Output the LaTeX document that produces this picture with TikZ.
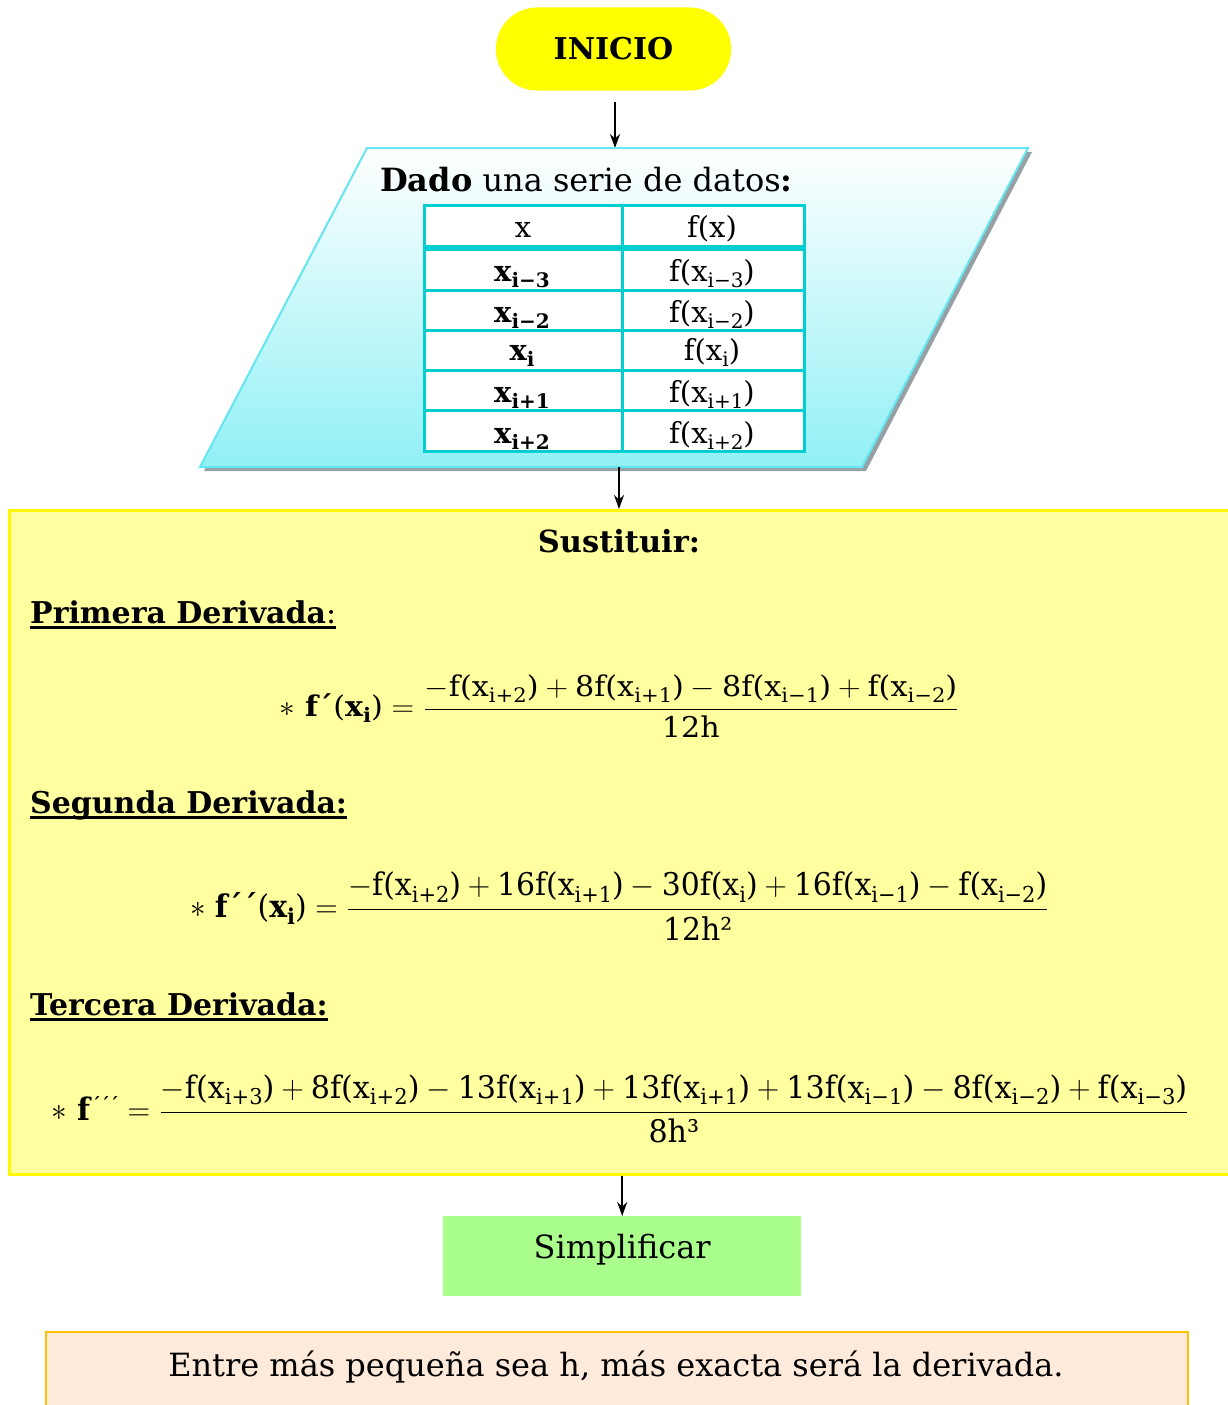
\documentclass[tikz,border=0pt]{standalone}
\usepackage{amsmath}
\usepackage{graphicx}
\usepackage{fontspec}
\setmainfont{DejaVu Serif}
\usetikzlibrary{arrows.meta}
\definecolor{startyel}{RGB}{255,255,0}
\definecolor{paraline}{RGB}{100,230,240}
\definecolor{parafill}{RGB}{145,240,245}
\definecolor{shadowc}{RGB}{150,160,165}
\definecolor{tabline}{RGB}{0,206,209}
\definecolor{boxfill}{RGB}{255,255,160}
\definecolor{boxline}{RGB}{255,248,0}
\definecolor{simpfill}{RGB}{170,255,140}
\definecolor{notefill}{RGB}{253,234,218}
\definecolor{noteline}{RGB}{255,192,0}
\newcommand{\mysub}[1]{\raisebox{-6pt}{\fontsize{20}{24}\selectfont #1}}
\newcommand{\mysubf}[1]{\raisebox{-4pt}{\fontsize{14}{16}\selectfont #1}}
\newcommand{\myft}[2][]{\mbox{#1f(x\mysubf{#2})}}
\newsavebox{\myulbox}
\newcommand{\myul}[1]{\sbox{\myulbox}{#1}\rlap{\usebox{\myulbox}}\rule[-6pt]{\wd\myulbox}{3pt}}
\begin{document}
\begin{tikzpicture}[x=1pt,y=-1pt,
  arr/.style={-{Stealth[length=14pt,width=10pt]}, line width=2pt},
  startbox/.style={fill=startyel, rounded corners=41pt, minimum width=235pt, minimum height=83pt, inner sep=0pt, font=\fontsize{30}{36}\selectfont\bfseries},
  cell/.style={anchor=base, inner sep=0pt, font=\fontsize{29}{34}\selectfont},
  head/.style={anchor=base west, inner sep=0pt, font=\fontsize{30}{36}\selectfont},
  eqn/.style={inner sep=0pt, font=\fontsize{20}{24}\selectfont},
  tab/.style={draw=tabline, line width=3pt}]
\useasboundingbox (0,0) rectangle (1228,1405);
\clip (0,0) rectangle (1228,1405);

% start
\node[startbox] (inicio) at (613.5,49) {INICIO};
\coordinate (ptop) at (615,148);
\draw[arr, shorten <=11pt] (inicio.south -| ptop) -- (ptop);

% parallelogram
\fill[shadowc] (371,152) -- (1032,152) -- (866,471) -- (204,471) -- cycle;
\shade[top color=white, bottom color=parafill] (367,148) -- (1028,148) -- (862,467) -- (200,467) -- cycle;
\draw[paraline, line width=2pt] (367,148) -- (1028,148) -- (862,467) -- (200,467) -- cycle;
\node[anchor=base west, inner sep=0pt, font=\fontsize{32}{38}\selectfont] (dado) at (380,191) {\textbf{Dado} una serie de datos\textbf{:}};

% table
\fill[white] (424,205) rectangle (804,451);
\draw[tab] (424,205) rectangle (804,451);
\draw[tab] (622,205) -- (622,451);
\draw[tabline, line width=6pt] (424,248) -- (804,248);
\foreach \yy in {290,330,370,410} \draw[tab] (424,\yy) -- (804,\yy);
\node[cell] (hx) at (523,237) {x};
\node[cell] (hf) at (712,237) {f(x)};
\node[cell] (x1) at (522,281) {\textbf{x\mysub{i−3}}};
\node[cell] (f1) at (712,281) {f(x\mysub{i−3})};
\node[cell] (x2) at (522,322) {\textbf{x\mysub{i−2}}};
\node[cell] (f2) at (712,322) {f(x\mysub{i−2})};
\node[cell] (x3) at (522,360) {\textbf{x\mysub{i}}};
\node[cell] (f3) at (712,360) {f(x\mysub{i})};
\node[cell] (x4) at (522,402) {\textbf{x\mysub{i+1}}};
\node[cell] (f4) at (712,402) {f(x\mysub{i+1})};
\node[cell] (x5) at (522,443) {\textbf{x\mysub{i+2}}};
\node[cell] (f5) at (712,443) {f(x\mysub{i+2})};

% big yellow box
\node[draw=boxline, fill=boxfill, line width=3pt, minimum width=1232pt, minimum height=664pt, inner sep=0pt, anchor=north west] (sust) at (8,509) {};
\coordinate (pbot) at (619,467);
\draw[arr] (pbot) -- (pbot |- sust.north);

\node[anchor=base, inner sep=0pt, font=\fontsize{30.5}{36}\selectfont\bfseries] (sustit) at (619,552) {Sustituir:};
\node[head] (prim) at (30,623) {\myul{\textbf{Primera Derivada}:}};
\node[head] (segu) at (30,813) {\myul{\textbf{Segunda Derivada:}}};
\node[head] (terc) at (30,1015) {\myul{\textbf{Tercera Derivada:}}};

\node[eqn] (eq1) at (619.5,706) {\resizebox*{679pt}{62pt}{$\displaystyle \ast\ \mbox{\textbf{f´}(\textbf{x\mysubf{i}})} = \frac{-\myft{i+2} + \myft[8]{i+1} - \myft[8]{i−1} + \myft{i−2}}{\mbox{12h}}$}};
\node[eqn] (eq2) at (619.5,906) {\resizebox*{859pt}{68pt}{$\displaystyle \ast\ \mbox{\textbf{f´´}(\textbf{x\mysubf{i}})} = \frac{-\myft{i+2} + \myft[16]{i+1} - \myft[30]{i} + \myft[16]{i−1} - \myft{i−2}}{\mbox{12h²}}$}};
\node[eqn] (eq3) at (620.5,1109) {\resizebox*{1137pt}{68pt}{$\displaystyle \ast\ \mbox{\textbf{f}\raisebox{6pt}{\fontsize{12}{14}\selectfont\bfseries ´´´}} = \frac{-\myft{i+3} + \myft[8]{i+2} - \myft[13]{i+1} + \myft[13]{i+1} + \myft[13]{i−1} - \myft[8]{i−2} + \myft{i−3}}{\mbox{8h³}}$}};

% simplificar
\node[fill=simpfill, minimum width=358pt, minimum height=80pt, inner sep=0pt, anchor=north west, text height=24pt, text depth=20pt, font=\fontsize{32}{38}\selectfont] (simp) at (443,1216) {Simplificar};
\draw[arr] (sust.south -| simp.north) -- (simp.north);

% note
\path[fill=notefill, draw=noteline, line width=2.5pt] (46,1332) rectangle (1188,1425);
\node[anchor=base, inner sep=0pt, font=\fontsize{32}{38}\selectfont] (note) at (616,1376) {Entre más pequeña sea h, más exacta será la derivada.};
\end{tikzpicture}
\end{document}
